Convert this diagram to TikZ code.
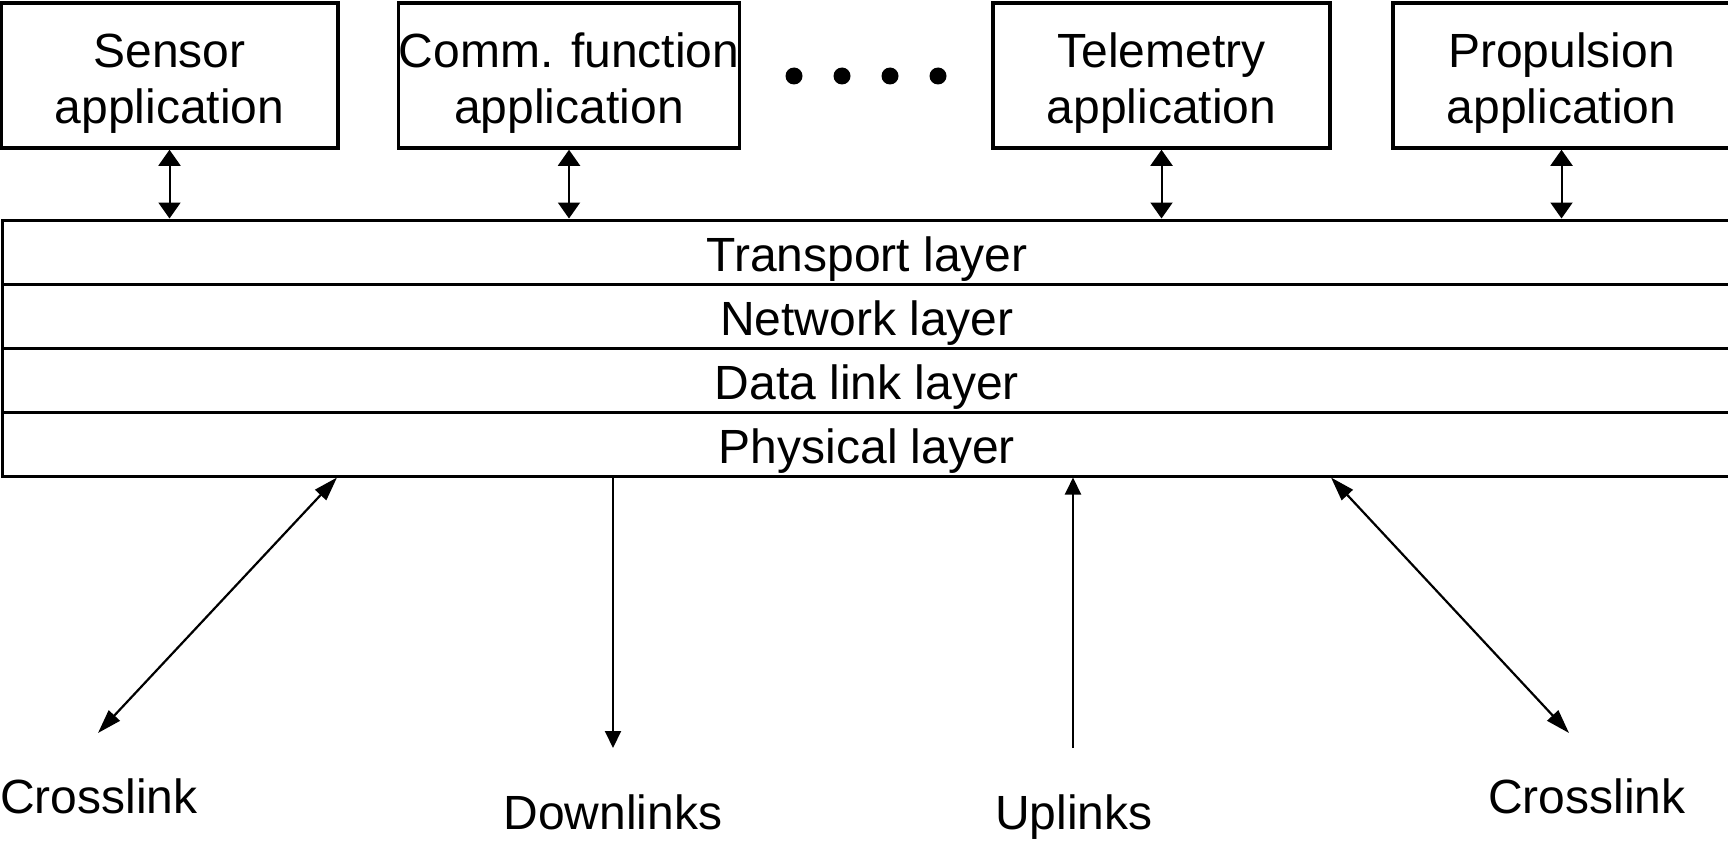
\documentclass[tikz,border=0pt]{standalone}
\usepackage{fontspec}
\setmainfont{Liberation Sans}
\usetikzlibrary{arrows.meta}
\newcommand\apptext[2]{\rule{0pt}{49pt}#1\\#2}
\begin{document}
\begin{tikzpicture}[x=1pt,y=-1pt,
  bigfont/.style={font=\fontsize{48}{56}\selectfont},
  app/.style={draw,line width=3.5pt,minimum width=337pt,minimum height=145pt,inner sep=0pt,align=center,bigfont},
  layer/.style={draw,line width=3pt,minimum width=1730pt,minimum height=64pt,inner sep=0pt,text height=42pt,text depth=4pt,bigfont},
  lbl/.style={inner sep=0pt,bigfont},
  vlink/.style={line width=2pt,{Triangle[length=16pt,width=22pt]}-{Triangle[length=16pt,width=22pt]}},
  ulink/.style={line width=2pt,-{Triangle[length=17pt,width=16pt]}},
  xlink/.style={line width=2.2pt,{Triangle[length=24pt,width=15pt]}-{Triangle[length=24pt,width=15pt]}},
  dotmark/.style={fill=black}
]
\clip (0,0) rectangle (1728,840);
% application boxes
\node[app] (sensor) at (169.5,75.5) {\apptext{Sensor}{application}};
\node[app] (comm)   at (569,75.5)   {\apptext{Comm. function}{application}};
\node[app] (telem)  at (1161.5,75.5) {\apptext{Telemetry}{application}};
\node[app] (prop)   at (1561.5,75.5) {\apptext{Propulsion}{application}};
% dots
\foreach \x in {794,842,890,938} \fill[dotmark] (\x,76) circle (8.5pt);
% layers
\node[layer] (tl) at (867,252) {Transport layer};
\node[layer] (nl) at (867,316) {Network layer};
\node[layer] (dl) at (867,380) {Data link layer};
\node[layer] (pl) at (867,444) {Physical layer};
% app - transport arrows
\draw[vlink] (sensor.south) -- (sensor.south |- tl.north);
\draw[vlink] (comm.south) -- (comm.south |- tl.north);
\draw[vlink] (telem.south) -- (telem.south |- tl.north);
\draw[vlink] (prop.south) -- (prop.south |- tl.north);
% link ends
\coordinate (cl) at (98,733);
\coordinate (cr) at (1569,733);
\coordinate (clx) at (337,0);
\coordinate (crx) at (1331,0);
\coordinate (dn) at (613,748);
\coordinate (up) at (1073,748);
\draw[xlink] (pl.south -| clx) -- (cl);
\draw[xlink] (pl.south -| crx) -- (cr);
\draw[ulink] (pl.south -| dn) -- (dn);
\draw[ulink] (up) -- (pl.south -| up);
% labels
\node[lbl,anchor=base west] (lcl) at (0,813) {Crosslink};
\node[lbl,anchor=base] (ldn) at (613,829) {Downlinks};
\node[lbl,anchor=base] (lup) at (1074,829) {Uplinks};
\node[lbl,anchor=base] (lcr) at (1587,813) {Crosslink};
\end{tikzpicture}
\end{document}
